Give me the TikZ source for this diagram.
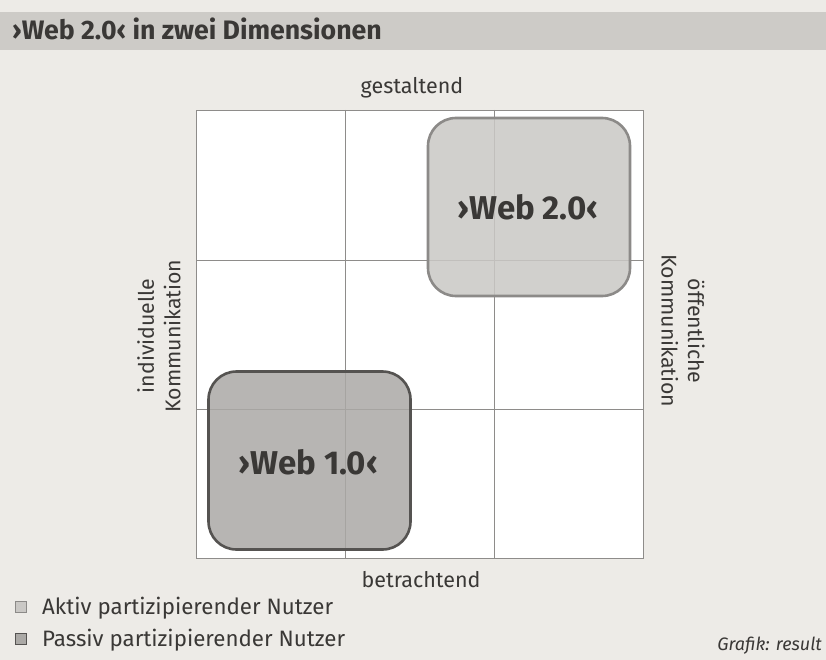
\documentclass[tikz,border=0pt]{standalone}
\usepackage{fontspec}
\setmainfont{Fira Sans}
\usetikzlibrary{positioning}
\definecolor{paper}{HTML}{EDEBE7}
\definecolor{band}{HTML}{CDCBC7}
\definecolor{ink}{HTML}{3A3836}
\definecolor{gridline}{HTML}{8E8C8A}
\definecolor{activefill}{HTML}{CAC8C5}
\definecolor{activeedge}{HTML}{8C8A88}
\definecolor{passivefill}{HTML}{ABA9A6}
\definecolor{passiveedge}{HTML}{555351}
\tikzset{
  axislabel/.style={text=ink, font=\fontsize{21.5}{23}\selectfont, inner sep=0pt},
  sidelabel/.style={text=ink, font=\fontsize{21.3}{26.5}\selectfont, align=center, inner sep=0pt},
  webbox/.style={rounded corners=28pt, line width=2.6pt, minimum width=202pt, minimum height=178pt},
  weblabel/.style={text=ink, font=\bfseries\fontsize{33}{36}\selectfont},
  legendbox/.style={minimum size=11pt, inner sep=0pt, line width=1.6pt},
  legendtext/.style={text=ink, font=\fontsize{22.3}{24}\selectfont, anchor=west, inner sep=0pt},
}
\begin{document}
\begin{tikzpicture}[x=1pt,y=-1pt]
  % page and title band
  \fill[paper] (0,0) rectangle (826,660);
  \useasboundingbox (0,0) rectangle (826,660);
  \fill[band] (0,12) rectangle (826,50);
  \node[anchor=base west, text=ink, font=\bfseries\fontsize{26.7}{28}\selectfont, inner sep=0pt]
    (title) at (12,40) {›Web 2.0‹ in zwei Dimensionen};

  % 3x3 grid
  \fill[white] (196,110) rectangle (643,558);
  \draw[gridline, line width=0.8pt] (196,110) rectangle (643,558);
  \draw[gridline, line width=0.8pt] (345,110) -- (345,558) (494,110) -- (494,558)
                                    (196,260) -- (643,260) (196,409) -- (643,409);

  % web generations
  \node[webbox, draw=activeedge, fill=activefill, fill opacity=0.85] (web2) at (529,207) {};
  \node[webbox, draw=passiveedge, fill=passivefill, fill opacity=0.85] (web1) at (309.5,460.5) {};
  \node[weblabel] (web2text) at ([xshift=-1pt]web2.center) {›Web 2.0‹};
  \node[weblabel] (web1text) at ([xshift=-1pt,yshift=-2pt]web1.center) {›Web 1.0‹};

  % axis labels
  \node[axislabel] (top) at (412,88) {gestaltend};
  \node[axislabel] (bottom) at (421,580) {betrachtend};
  \node[sidelabel, rotate=90] (left) at (159,336) {individuelle\\Kommunikation};
  \node[sidelabel, rotate=-90] (right) at (683,331) {öffentliche\\Kommunikation};

  % legend
  \node[legendbox, draw=activeedge, fill=activefill] (leg1) at (21,607) {};
  \node[legendtext] (leg1text) at (42,608) {Aktiv partizipierender Nutzer};
  \node[legendbox, draw=passiveedge, fill=passivefill] (leg2) at (21,639) {};
  \node[legendtext] (leg2text) at (42,640) {Passiv partizipierender Nutzer};

  \node[anchor=east, text=ink, font=\itshape\fontsize{18}{20}\selectfont, inner sep=0pt]
    (credit) at (822,646) {Grafik: result};
\end{tikzpicture}
\end{document}
